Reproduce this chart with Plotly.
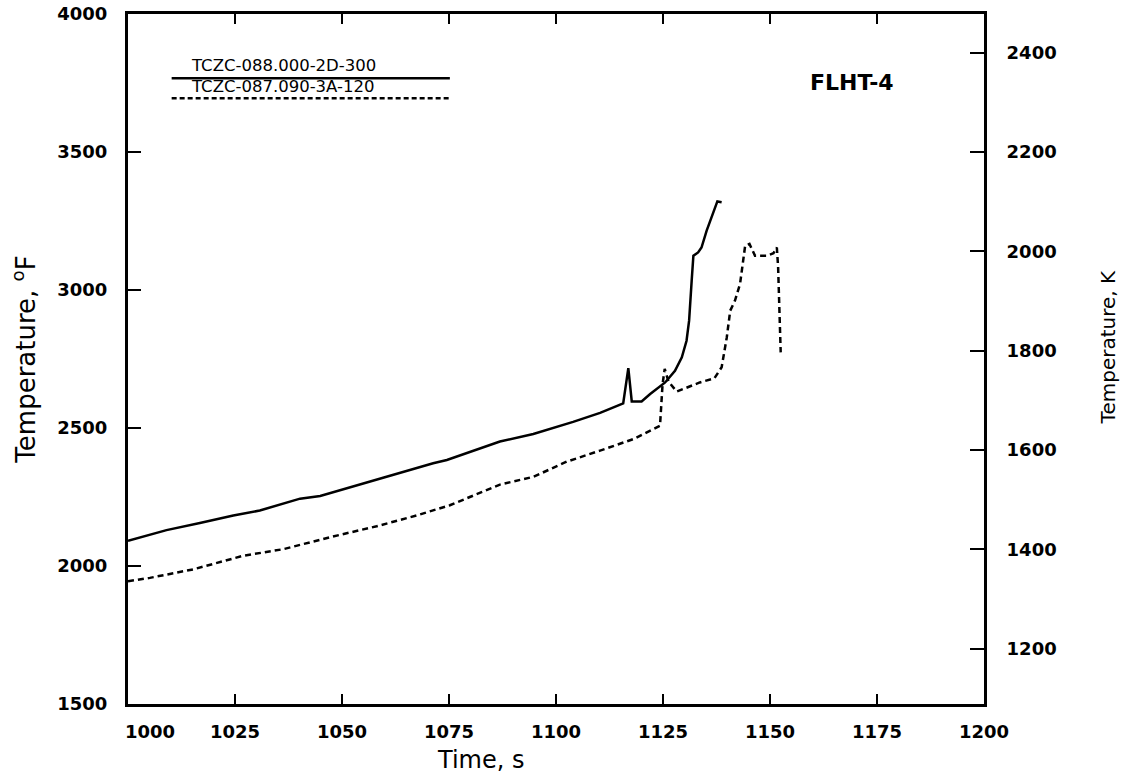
import plotly.graph_objects as go

# Thermocouple TCZC-088.000-2D-300 (solid)
time_a = [1000, 1009.0, 1016.8, 1024.6, 1030.8, 1040.2, 1044.9, 1055.8, 1059.6, 1071.3,
          1074.5, 1086.9, 1094.7, 1104.0, 1110.3, 1115.7, 1116.9, 1117.7, 1120.0, 1122.0,
          1125.5, 1127.8, 1129.4, 1130.5, 1131.1, 1131.7, 1132.1, 1133.2, 1134.0, 1135.2,
          1136.0, 1137.1, 1137.7, 1138.7]
temp_a = [2091, 2130, 2156, 2183, 2201, 2244, 2254, 2305, 2320, 2372,
          2384, 2451, 2478, 2522, 2555, 2589, 2717, 2596, 2596, 2623,
          2665, 2707, 2756, 2816, 2889, 3034, 3124, 3136, 3154, 3215,
          3251, 3300, 3321, 3318]

# Thermocouple TCZC-087.090-3A-120 (dashed)
time_b = [1000, 1005.1, 1015.3, 1026.9, 1036.3, 1047.9, 1058.1, 1067.4, 1075.2, 1086.9,
          1094.7, 1102.5, 1110.3, 1118.1, 1124.3, 1124.9, 1125.4, 1126.3, 1128.2, 1133.6,
          1137.0, 1138.7, 1139.9, 1140.7, 1141.8, 1143.0, 1144.2, 1145.2, 1146.5, 1149.2,
          1150.8, 1151.6, 1151.9, 1152.5]
temp_b = [1945, 1957, 1988, 2037, 2061, 2107, 2144, 2183, 2220, 2295,
          2323, 2378, 2418, 2460, 2508, 2659, 2714, 2668, 2632, 2665,
          2680, 2720, 2828, 2925, 2961, 3022, 3161, 3167, 3124, 3124,
          3133, 3154, 3082, 2774]

name_a = "TCZC-088.000-2D-300"
name_b = "TCZC-087.090-3A-120"
test_label = "FLHT-4"

x_ticks = [1000, 1025, 1050, 1075, 1100, 1125, 1150, 1175, 1200]
# first label is nudged right so it starts at the left frame
x_tick_text = ["\u00a0" * 7 + "1000", "1025", "1050", "1075", "1100",
               "1125", "1150", "1175", "1200"]
f_ticks = [1500, 2000, 2500, 3000, 3500, 4000]
k_ticks = [1200, 1400, 1600, 1800, 2000, 2200, 2400]
f_range = [1500, 4000]


def f_to_k(f):
    return (f - 32.0) * 5.0 / 9.0 + 273.15


k_range = [f_to_k(f_range[0]), f_to_k(f_range[1])]

tick_font = dict(family="DejaVu Sans", size=18, color="black", weight="bold")
legend_font = dict(family="DejaVu Sans", size=16.5, color="black")

fig = go.Figure()
fig.add_trace(go.Scatter(x=time_a, y=temp_a, mode="lines", name=name_a,
                         line=dict(color="black", width=2.5), showlegend=False))
fig.add_trace(go.Scatter(x=time_b, y=temp_b, mode="lines", name=name_b,
                         line=dict(color="black", width=2.5, dash="6px,4px"), showlegend=False))
# Kelvin scale shares the plot area; an empty trace attaches the secondary axis
fig.add_trace(go.Scatter(x=[None], y=[None], yaxis="y2", mode="lines",
                         showlegend=False, hoverinfo="skip"))

fig.update_layout(
    width=1126, height=774,
    margin=dict(l=128, r=142, t=14, b=70),
    paper_bgcolor="white", plot_bgcolor="white",
    showlegend=False,
    xaxis=dict(range=[1000, 1200], tickvals=x_ticks, ticktext=x_tick_text,
               ticks="inside", ticklen=10,
               tickwidth=2, tickcolor="black", showline=True, linewidth=3,
               linecolor="black", mirror="ticks", showgrid=False, zeroline=False,
               tickfont=tick_font, ticklabelstandoff=9, automargin=False),
    yaxis=dict(range=f_range, tickvals=f_ticks, ticks="inside", ticklen=13,
               tickwidth=2, tickcolor="black", showline=True, linewidth=3,
               linecolor="black", mirror=True, showgrid=False, zeroline=False,
               tickfont=tick_font, ticklabelstandoff=14, automargin=False,
               title=dict(text="Temperature, <sup>o</sup>F",
                          font=dict(family="DejaVu Sans", size=26, color="black"),
                          standoff=15)),
    yaxis2=dict(range=k_range, tickvals=k_ticks, overlaying="y", side="right",
                ticks="inside", ticklen=14, tickwidth=2, tickcolor="black",
                showline=True, linewidth=3, linecolor="black", showgrid=False,
                zeroline=False, tickfont=tick_font, ticklabelstandoff=16,
                automargin=False),
)

# Axis captions
fig.add_annotation(text="Time, s", xref="paper", yref="paper", x=0.4124, y=-0.081,
                   xanchor="center", yanchor="middle", showarrow=False,
                   font=dict(family="DejaVu Sans", size=24, color="black"))
fig.add_annotation(text="Temperature, K", xref="paper", yref="paper", x=1.145, y=0.517,
                   xanchor="center", yanchor="middle", showarrow=False, textangle=-90,
                   font=dict(family="DejaVu Sans", size=20, color="black"))

# Legend: each label sits directly above its own line sample
fig.add_shape(type="line", xref="paper", yref="paper", x0=0.051, x1=0.376,
              y0=0.907, y1=0.907, line=dict(color="black", width=2.5))
fig.add_shape(type="line", xref="paper", yref="paper", x0=0.051, x1=0.376,
              y0=0.878, y1=0.878, line=dict(color="black", width=2.5, dash="5px,3px"))
fig.add_annotation(text=name_a, xref="paper", yref="paper", x=0.0724, y=0.9100,
                   xanchor="left", yanchor="bottom", showarrow=False, borderpad=0,
                   font=legend_font)
fig.add_annotation(text=name_b, xref="paper", yref="paper", x=0.0724, y=0.8800,
                   xanchor="left", yanchor="bottom", showarrow=False, borderpad=0,
                   font=legend_font)
fig.add_annotation(text=test_label, xref="paper", yref="paper", x=0.846, y=0.90,
                   xanchor="center", yanchor="middle", showarrow=False,
                   font=dict(family="DejaVu Sans", size=22, color="black", weight="bold"))

fig.write_html("out.html")
